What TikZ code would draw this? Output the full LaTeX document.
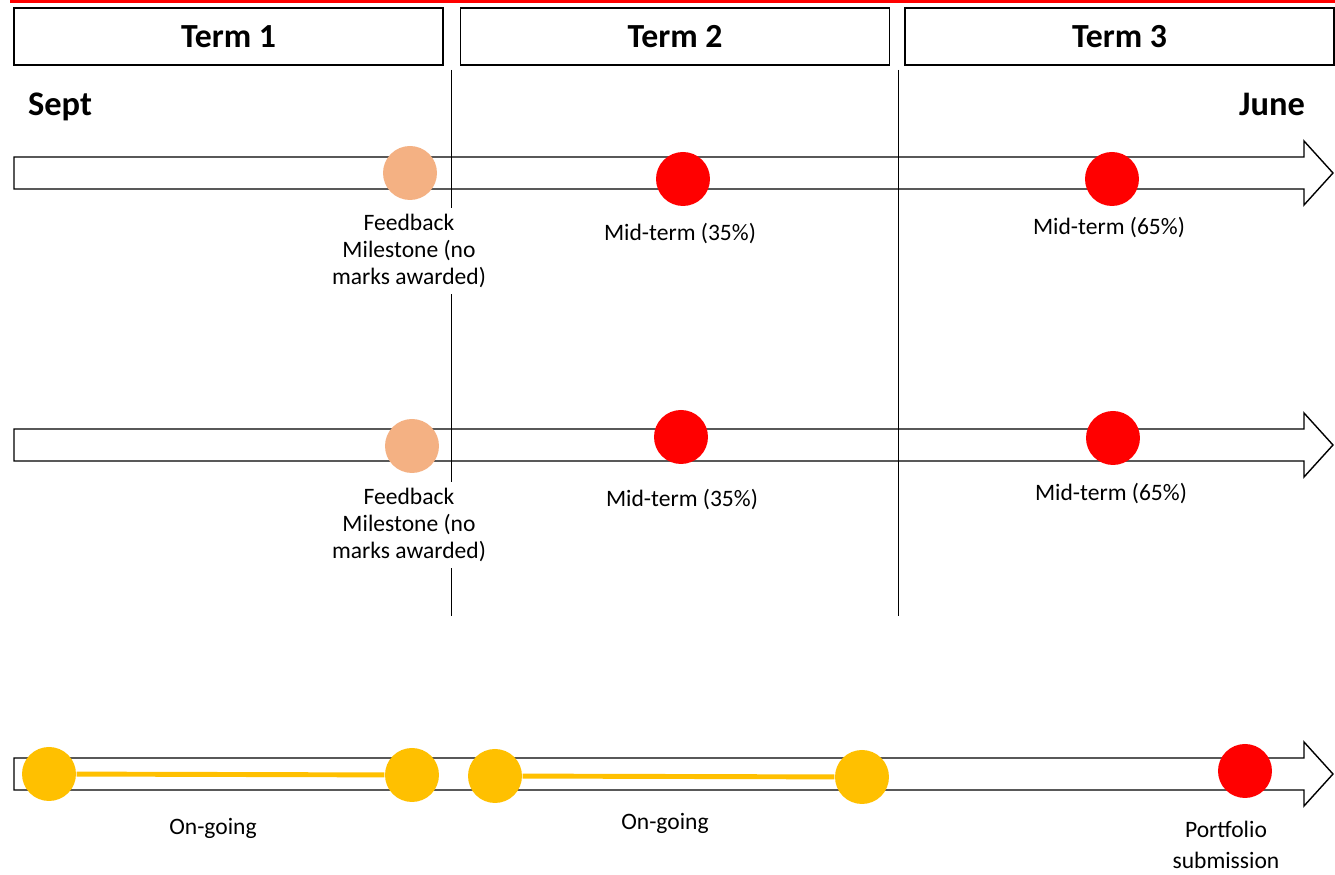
\documentclass[tikz,border=0pt]{standalone}
\usepackage{fontspec}
\setmainfont{Carlito}
\usepackage{tikz}

\definecolor{peach}{HTML}{F4B183}
\definecolor{amber}{HTML}{FFC000}

\begin{document}
\begin{tikzpicture}[
    termbox/.style={draw, line width=0.4pt, minimum width=4.29cm, minimum height=0.57cm,
        inner sep=0pt, font=\fontsize{9.6}{11}\selectfont\bfseries},
    month/.style={font=\fontsize{9.8}{11}\selectfont\bfseries},
    dot/.style={circle, minimum size=0.54cm, inner sep=0pt},
    lbl/.style={fill=white, align=center, inner sep=1.8pt, font=\fontsize{6.7}{7.7}\selectfont},
    ongoing/.style={amber, line width=1.4pt}
]
    \useasboundingbox (0,0) rectangle (13.35,-8.75);
    \fill[red] (0.10,0) rectangle (13.35,-0.03);

    \node[termbox] (term1) at (2.285,-0.365) {Term 1};
    \node[termbox] (term2) at (6.75,-0.365) {Term 2};
    \node[termbox] (term3) at (11.195,-0.365) {Term 3};

    \node[month] (sept) at (0.60,-1.07) {Sept};
    \node[month] (june) at (12.72,-1.04) {June};

    % timelines
    \foreach \yc in {-1.73,-4.45,-7.74} {
        \draw[line width=0.4pt, fill=white]
            (0.14,\yc+0.16) -- (13.04,\yc+0.16) -- (13.04,\yc+0.32) -- (13.33,\yc)
            -- (13.04,\yc-0.32) -- (13.04,\yc-0.16) -- (0.14,\yc-0.16) -- cycle;
    }

    % term borders
    \draw[line width=0.25pt] (4.51,-0.70) -- (4.51,-6.16);
    \draw[line width=0.25pt] (8.98,-0.70) -- (8.98,-6.16);

    \node[dot, fill=peach] (fb1) at (4.10,-1.73) {};
    \node[dot, fill=red] (mid1a) at (6.83,-1.79) {};
    \node[dot, fill=red] (mid1b) at (11.12,-1.79) {};

    \node[dot, fill=peach] (fb2) at (4.12,-4.46) {};
    \node[dot, fill=red] (mid2a) at (6.81,-4.37) {};
    \node[dot, fill=red] (mid2b) at (11.13,-4.38) {};

    \node[dot, fill=amber] (og1) at (0.49,-7.74) {};
    \node[dot, fill=amber] (og2) at (4.12,-7.75) {};
    \node[dot, fill=amber] (og3) at (4.95,-7.76) {};
    \node[dot, fill=amber] (og4) at (8.62,-7.77) {};
    \node[dot, fill=red] (port) at (12.45,-7.71) {};

    \draw[ongoing] (og1) -- (og2);
    \draw[ongoing] (og3) -- (og4);

    \node[lbl] (fbtext1) at (4.09,-2.51) {Feedback\\Milestone (no\\marks awarded)};
    \node[lbl] (midtext1a) at (6.80,-2.34) {Mid-term (35\%)};
    \node[lbl] (midtext1b) at (11.09,-2.28) {Mid-term (65\%)};

    \node[lbl] (fbtext2) at (4.09,-5.25) {Feedback\\Milestone (no\\marks awarded)};
    \node[lbl] (midtext2a) at (6.82,-5.00) {Mid-term (35\%)};
    \node[lbl] (midtext2b) at (11.11,-4.94) {Mid-term (65\%)};

    \node[lbl] (ogtext1) at (2.13,-8.28) {On-going};
    \node[lbl] (ogtext2) at (6.65,-8.23) {On-going};
    \node[lbl] (porttext) at (12.26,-8.445) {Portfolio\\[1.1pt]submission};
\end{tikzpicture}
\end{document}
